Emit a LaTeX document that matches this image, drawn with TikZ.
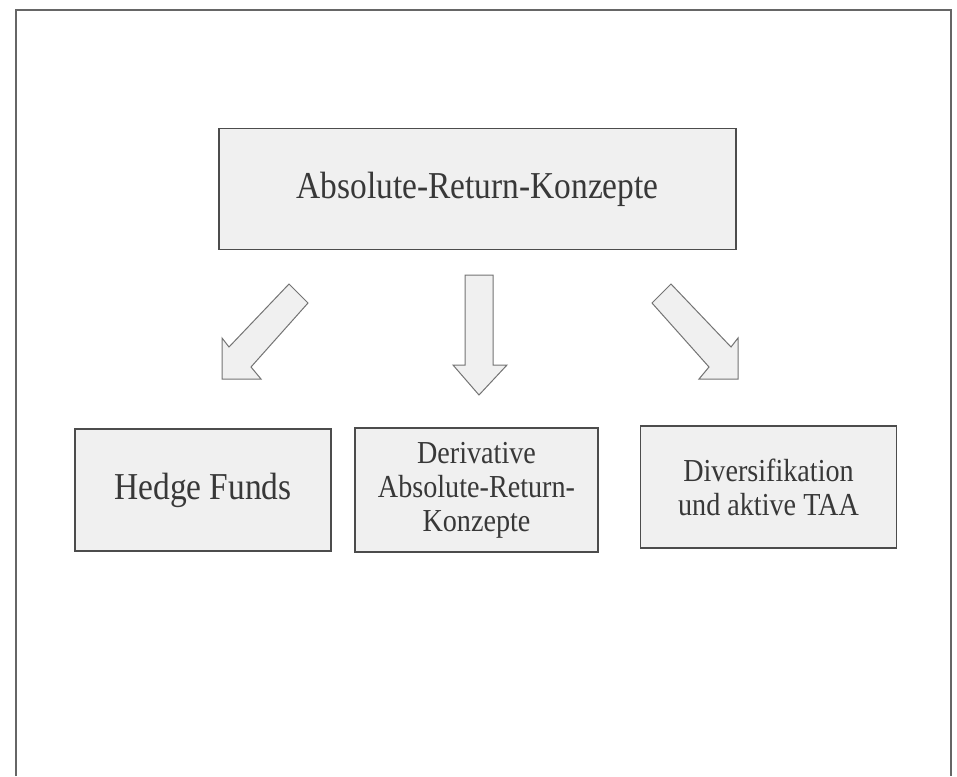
\documentclass[tikz,border=0pt]{standalone}
\usepackage{fontspec}
\setmainfont{Liberation Serif}[FakeStretch=0.88]
\begin{document}
\begin{tikzpicture}[x=1pt,y=-1pt,
  box/.style={draw=black!70,line width=1.2pt,fill=black!6,text=black!78,
    inner sep=0pt,align=center},
  bigtext/.style={font=\fontsize{38}{44}\selectfont},
  smalltext/.style={font=\fontsize{32}{34}\selectfont},
  blockarrow/.style={draw=black!55,line width=1pt,fill=black!6,line join=miter},
  frame/.style={draw=black!60,line width=2pt}]
\useasboundingbox (0,0) rectangle (957,776);
% frame (open at the bottom)
\draw[frame] (16,776) -- (16,10) -- (951,10) -- (951,776);
% nodes
\node[box,bigtext,minimum width=517pt,minimum height=121pt] (top) at (477.5,189) {Absolute-Return-Konzepte};
\node[box,bigtext,minimum width=256pt,minimum height=122pt] (hedge) at (203,490) {Hedge Funds};
\node[box,smalltext,minimum width=243pt,minimum height=124pt] (deriv) at (476.5,490) {Derivative\\Absolute-Return-\\Konzepte};
\node[box,smalltext,minimum width=256pt,minimum height=122pt] (divers) at (768.5,487) {Diversifikation\\und aktive TAA};
% block arrows
\draw[blockarrow] (289,284) -- (308,303) -- (251,367) -- (261,379) -- (222,379) -- (222,338) -- (229,347) -- cycle;
\draw[blockarrow] (465,275) -- (493,275) -- (493,365) -- (507,365) -- (479,395) -- (453,365) -- (465,365) -- cycle;
\draw[blockarrow] (671,284) -- (652,303) -- (709,367) -- (699,379) -- (738,379) -- (738,338) -- (731,347) -- cycle;
\end{tikzpicture}
\end{document}
